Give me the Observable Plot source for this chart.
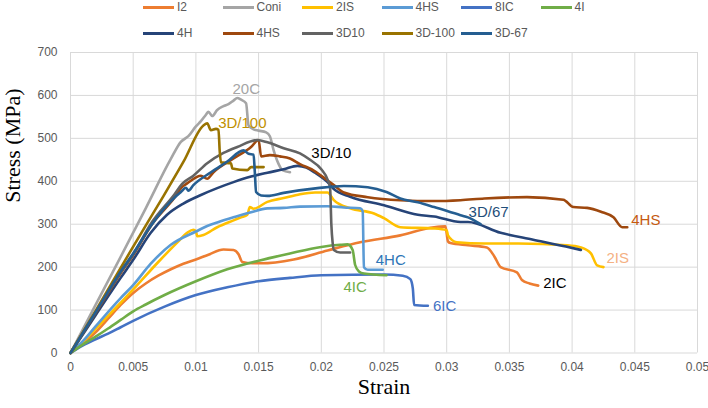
<!DOCTYPE html>
<html>
<head>
<meta charset="utf-8">
<script src="https://cdn.jsdelivr.net/npm/d3@7"></script>
<script src="https://cdn.jsdelivr.net/npm/@observablehq/plot@0.6"></script>
<style>
  body { margin: 0; background: #fff; }
  #legende { position: relative; width: 708px; height: 44px; font-family: "Liberation Sans", sans-serif; font-size: 12px; color: #595959; }
  .item { position: absolute; display: flex; align-items: center; white-space: nowrap; }
  .trait { display: inline-block; width: 31px; height: 3px; margin-right: 3px; }
</style>
</head>
<body>
<div id="legende"></div>
<div id="graph"></div>
<script>
// noms de la legende, dans l'ordre du tableur
const noms = ["I2", "Coni", "2IS", "4HS", "8IC", "4I", "4H", "4HS", "3D10", "3D-100", "3D-67"];
const couleurs = ["#ED7D31", "#A5A5A5", "#FFC000", "#5B9BD5", "#4472C4", "#70AD47",
                  "#264478", "#9E480E", "#636363", "#997300", "#255E91"];

// courbes [deformation, contrainte MPa]
const i2 = [[0,0],[0.001,22],[0.002,48],[0.003,80],[0.004,112],[0.005,140],[0.006,162],[0.007,180],[0.008,195],
  [0.009,208],[0.01,218],[0.011,229],[0.0122,241],[0.013,240],[0.0134,230],[0.0137,212],[0.0145,209],[0.0152,209],
  [0.0178,218],[0.0205,239],[0.0231,258],[0.0263,274],[0.029,293],[0.0299,295],[0.0301,260],[0.0303,256],
  [0.0317,251],[0.0332,246],[0.0338,225],[0.0343,200],[0.0356,188],[0.036,170],[0.0366,162],[0.0373,157]];
const coni = [[0,0],[0.002,112],[0.004,224],[0.006,337],[0.008,452],[0.0088,492],[0.0094,505],[0.01,528],
  [0.0104,540],[0.0108,555],[0.011,562],[0.0113,552],[0.0117,566],[0.0122,575],[0.0126,580],[0.013,588],
  [0.0133,594],[0.0136,590],[0.014,582],[0.0142,530],[0.0146,521],[0.015,518],[0.0156,514],[0.0159,505],
  [0.0162,472],[0.0166,440],[0.0169,426],[0.0175,421]];
const s2is = [[0,0],[0.001,26],[0.002,56],[0.004,117],[0.005,148],[0.007,212],[0.0085,257],[0.0093,280],[0.0098,287],
  [0.01,284],[0.0101,272],[0.0106,275],[0.0117,293],[0.013,309],[0.0136,316],[0.0141,322],[0.0143,340],
  [0.0146,336],[0.0157,352],[0.017,361],[0.0183,370],[0.0195,374],[0.0205,374],[0.021,356],[0.0223,337],
  [0.0242,325],[0.025,314],[0.0263,293],[0.029,290],[0.03,286],[0.0301,274],[0.0308,258],[0.033,255],
  [0.0357,255],[0.0396,251],[0.0407,246],[0.0415,232],[0.042,204],[0.0425,200]];
const h4s = [[0,0],[0.001,28],[0.002,62],[0.004,128],[0.005,158],[0.0064,208],[0.008,252],[0.01,283],[0.011,297],
  [0.0117,304],[0.013,316],[0.0144,328],[0.0157,337],[0.017,338],[0.0183,341],[0.0205,342],[0.0218,339],
  [0.0231,337],[0.0233,330],[0.0234,200],[0.0237,194],[0.0249,194]];
const ic8 = [[0,0],[0.001,18],[0.002,32],[0.003,45],[0.004,60],[0.005,75],[0.0075,108],[0.01,135],[0.0125,153],
  [0.015,167],[0.0175,175],[0.02,181],[0.025,183],[0.0265,180],[0.0271,172],[0.0273,150],[0.0274,112],[0.0285,110]];
const i4 = [[0,0],[0.001,20],[0.002,38],[0.003,57],[0.004,77],[0.005,97],[0.006,113],[0.0075,135],[0.01,167],
  [0.0125,195],[0.015,215],[0.0175,232],[0.02,247],[0.0215,252],[0.0221,253],[0.0225,240],[0.0227,205],
  [0.023,190],[0.0234,185],[0.0252,181]];
const h4 = [[0,0],[0.002,88],[0.004,175],[0.005,217],[0.0064,280],[0.0077,322],[0.009,348],[0.0104,368],
  [0.0117,384],[0.013,398],[0.0144,411],[0.0157,420],[0.017,428],[0.0181,436],[0.0188,432],[0.0195,420],
  [0.0205,398],[0.021,382],[0.0223,364],[0.025,344],[0.0277,322],[0.029,318],[0.0311,305],[0.0317,305],
  [0.0343,280],[0.0369,264],[0.0395,248],[0.0407,240]];
const hs4 = [[0,0],[0.002,93],[0.004,186],[0.005,228],[0.0065,300],[0.0083,362],[0.0089,387],[0.0093,395],
  [0.0104,413],[0.0109,406],[0.0114,421],[0.013,453],[0.0144,480],[0.015,496],[0.0152,458],[0.0159,461],
  [0.0167,458],[0.0175,453],[0.0183,440],[0.0194,425],[0.0205,402],[0.021,391],[0.0218,374],[0.0237,363],
  [0.0263,356],[0.029,354],[0.0311,356],[0.033,360],[0.0364,363],[0.0393,357],[0.0401,340],[0.0412,338],
  [0.0423,329],[0.0433,316],[0.044,293],[0.0444,293]];
const d310 = [[0,0],[0.002,95],[0.004,188],[0.005,230],[0.0065,305],[0.0083,370],[0.0089,394],[0.0098,413],
  [0.0109,442],[0.0122,466],[0.0133,480],[0.0149,496],[0.0157,491],[0.017,477],[0.0183,465],[0.0191,450],
  [0.02,428],[0.0205,404],[0.0207,385],[0.0208,300],[0.0209,258],[0.021,240],[0.0215,234],[0.0223,234]];
const d3100 = [[0,0],[0.002,98],[0.005,248],[0.0074,365],[0.009,445],[0.0106,530],[0.0109,535],[0.0112,519],
  [0.0116,522],[0.0118,520],[0.0119,470],[0.012,444],[0.0128,442],[0.0129,430],[0.0141,426],[0.0144,433],
  [0.0154,433]];
const d367 = [[0,0],[0.002,95],[0.004,190],[0.005,232],[0.0065,300],[0.0083,362],[0.0088,375],[0.0092,385],
  [0.0094,378],[0.0098,391],[0.0112,421],[0.0125,446],[0.0138,472],[0.0142,464],[0.0146,462],[0.0147,420],
  [0.0148,375],[0.0152,367],[0.0157,366],[0.017,373],[0.0197,384],[0.0218,389],[0.0237,386],[0.0252,375],
  [0.0263,360],[0.0277,351],[0.029,340],[0.0311,321],[0.0317,316],[0.0327,300]];

const series = [i2, coni, s2is, h4s, ic8, i4, h4, hs4, d310, d3100, d367];

// etiquettes posees sur les courbes
const etiquettes = ["20C", "3D/100", "3D/10", "3D/67", "4HC", "4IC", "6IC", "2IC", "4HS", "2IS"];
const serieEtiquette = [1, 9, 8, 10, 3, 5, 4, 0, 7, 2];

const xTicks = d3.range(11).map(i => i * 0.005);
const yTicks = d3.range(8).map(i => i * 100);

// legende html au dessus du graphique
const legende = document.getElementById("legende");
noms.forEach((nom, i) => {
    const item = document.createElement("div");
    item.className = "item";
    item.style.left = (143 + (i % 6) * 79.5) + "px";
    item.style.top = (i < 6 ? 0 : 26) + "px";
    item.innerHTML = `<span class="trait" style="background:${couleurs[i]}"></span>${nom}`;
    legende.appendChild(item);
});

const sommet = s => s.reduce((a, b) => b[1] > a[1] ? b : a);
const fin = s => s[s.length - 1];

// reglages des etiquettes : point d'ancrage, decalage, couleur
const reglages = [
    {pt: sommet, dx: 9, dy: -9, anchor: "middle", fill: "#A5A5A5"},
    {pt: sommet, dx: 11, dy: 0, anchor: "start", fill: "#BF9000"},
    {pt: sommet, dx: 54, dy: 13, anchor: "start", fill: "#000000"},
    {pt: fin, dx: 8, dy: -12, anchor: "middle", fill: "#1F4E79"},
    {pt: fin, dx: -7, dy: -10, anchor: "start", fill: "#2E75B6"},
    {pt: fin, dx: -43, dy: 12, anchor: "start", fill: "#70AD47"},
    {pt: fin, dx: 5, dy: 0, anchor: "start", fill: "#4472C4"},
    {pt: fin, dx: 5, dy: -2, anchor: "start", fill: "#000000"},
    {pt: fin, dx: 4, dy: -7, anchor: "start", fill: "#C55A11"},
    {pt: fin, dx: 3, dy: -9, anchor: "start", fill: "#F4B183"}
];

const marques = [
    Plot.gridX(xTicks, {stroke: "#D9D9D9", strokeOpacity: 1}),
    Plot.gridY(yTicks, {stroke: "#D9D9D9", strokeOpacity: 1}),
    Plot.axisX({ticks: xTicks, tickSize: 0, tickPadding: 9, label: null,
        tickFormat: d => String(+d.toFixed(3))}),
    Plot.axisY({ticks: yTicks, tickSize: 0, tickPadding: 13, label: null})
];

series.forEach((s, i) => {
    marques.push(Plot.line(s, {x: d => d[0], y: d => d[1], stroke: couleurs[i], curve: "monotone-x",
        strokeWidth: 2.6, strokeLinejoin: "round", strokeLinecap: "round"}));
});

etiquettes.forEach((txt, k) => {
    const r = reglages[k];
    const p = r.pt(series[serieEtiquette[k]]);
    marques.push(Plot.text([p], {x: d => d[0], y: d => d[1], text: () => txt, dx: r.dx, dy: r.dy,
        textAnchor: r.anchor, fill: r.fill, fontSize: 15}));
});

marques.push(Plot.text(["Strain"], {frameAnchor: "bottom", dy: 41, fontSize: 22,
    fontFamily: "Liberation Serif", fill: "#000"}));
marques.push(Plot.text(["Stress (MPa)"], {frameAnchor: "left", dx: -58, rotate: -90, fontSize: 22,
    fontFamily: "Liberation Serif", fill: "#000"}));

const chart = Plot.plot({
    width: 708,
    height: 364,
    marginTop: 8,
    marginBottom: 55.5,
    marginLeft: 70,
    marginRight: 11,
    x: {domain: [0, 0.05]},
    y: {domain: [0, 700]},
    style: {fontFamily: "Liberation Sans, sans-serif", fontSize: "12px", color: "#595959", background: "#fff"},
    marks: marques
});

document.getElementById("graph").appendChild(chart);
</script>
</body>
</html>
